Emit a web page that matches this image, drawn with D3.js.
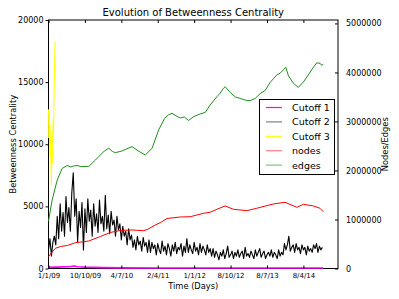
<!DOCTYPE html>
<html><head><meta charset="utf-8">
<script src="https://cdn.jsdelivr.net/npm/d3@7"></script>
<style>body{margin:0;background:#fff}svg{display:block}text{font-family:"DejaVu Sans",sans-serif}</style>
</head><body><svg id="c" width="399" height="299"></svg>
<script>
// ---- data ----
const xTickIdx = [0, 200, 400, 600, 800, 1000, 1200, 1400];
const xTickLabels = ["1/1/09", "10/10/09", "4/7/10", "2/4/11", "1/1/12", "8/10/12", "8/7/13", "8/4/14"];
const leftTicks = [0, 5000, 10000, 15000, 20000];
const rightTicks = [0, 1000000, 2000000, 3000000, 4000000, 5000000];
const seriesNames = ["Cutoff 1", "Cutoff 2", "Cutoff 3", "nodes", "edges"];
const seriesColors = ["#ff00ff", "#000000", "#ffff00", "#ff0000", "#1f8f1f"];

const cutoff1Day = [0, 40, 80, 120, 140, 160, 200, 300, 400, 600, 900, 1200, 1508];
const cutoff1 = [90, 110, 130, 160, 200, 140, 110, 70, 50, 40, 40, 40, 40];

const cutoff2Step = 8; // one sample every 8 days
const cutoff2 = [
 1500,2400,1000,2100, 2600,1900,4200,2400, 5200,3000,4500,2600,
 5800,3700,4900,3000,6100,
 7700,4200,5600,2150,4600,3300,5300,1500,4800,
 2900,5600,3800,4700,2600,5200,3400,4400,2900,5500,3600,4200,3000,
 5900,3200,4300,2800,4600,3500,3900,2600,4200,3100,3600,
 2300,3400,2600,3000,1900,3200,2300,
 2700,1700,2300,1500,2600,1900,2200,1400,2500,1800,2100,1300,2300,
 1300,2100,1600,1900,1100,2000,1500,1200,2200,1400,1800,1100,2000,1600,1000,1900,1400,2100,1200,1700,1500,2000,1000,1800,1300,
 2400,
 1300,1900,1500,1200,2100,1400,1700,1100,2000,1300,1800,1500,1100,1900,1300,1600,1000,1600,
 900,1400,1100,700,1300,1000,1500,800,1200,1800,900,1100,1400,800,1300,1000,1500,900,1200,1400,800,1700,1000,1200,
 900,1400,1100,800,1500,1000,1300,1600,900,1200,1400,800,1100,1300,1000,1500,900,1300,1100,800,1500,1000,1300,1100,
 2000,1500,1900,2600,1400,1700,1900,1300,2000,1500,1700,1200,1900,1500,1700,1100,1800,1400,1600,1300,1900,1600,2000,1300,1800,1500,1700
];

const cutoff3Day = [0, 2, 4, 6, 8, 10, 12, 14, 16, 18, 20, 22, 24, 26, 28, 30, 32, 34, 36];
const cutoff3 = [12800, 10500, 12500, 10000, 11500, 9000, 10500, 8000, 6700, 9000, 11000, 8500, 10500, 12000, 11000, 13500, 15000, 17000, 18300];

const nodesDay = [0, 38, 66, 103, 148, 194, 221, 285, 340, 395, 459, 523, 548, 586, 614, 651, 724, 779, 852, 888, 925, 970, 1016, 1089, 1144, 1199, 1235, 1299, 1364, 1400, 1455, 1491, 1509];
const nodes = [245000, 412000, 449000, 469000, 527000, 547000, 561000, 653000, 735000, 776000, 786000, 771000, 806000, 888000, 935000, 1020000, 1051000, 1057000, 1127000, 1147000, 1208000, 1276000, 1208000, 1180000, 1229000, 1282000, 1316000, 1351000, 1249000, 1310000, 1276000, 1229000, 1159000];

const edgesDay = [0, 20, 48, 75, 103, 121, 139, 157, 175, 221, 258, 276, 307, 331, 351, 367, 404, 428, 459, 493, 532, 569, 605, 638, 658, 678, 702, 724, 746, 769, 797, 833, 861, 888, 925, 943, 961, 970, 998, 1026, 1053, 1089, 1108, 1135, 1163, 1190, 1217, 1254, 1272, 1290, 1303, 1318, 1345, 1372, 1400, 1427, 1448, 1473, 1491, 1501, 1509];
const edges = [969000, 1398000, 1806000, 2041000, 2102000, 2071000, 2092000, 2102000, 2082000, 2082000, 2214000, 2282000, 2398000, 2453000, 2388000, 2363000, 2398000, 2439000, 2486000, 2398000, 2316000, 2453000, 2827000, 3065000, 3133000, 3167000, 3112000, 3071000, 3092000, 3020000, 3098000, 3153000, 3184000, 3337000, 3506000, 3576000, 3678000, 3710000, 3592000, 3500000, 3469000, 3429000, 3424000, 3469000, 3571000, 3633000, 3796000, 3949000, 3984000, 4051000, 4106000, 3929000, 3780000, 3694000, 3806000, 3949000, 4071000, 4194000, 4188000, 4143000, 4173000];

// ---- layout ----
const L = 48.5, R = 338, T = 20, B = 268.5;
const svg = d3.select("#c");
const x = d3.scaleLinear().domain([0, 1590]).range([L, R]);
const yL = d3.scaleLinear().domain([0, 20000]).range([B, T]);
const yR = d3.scaleLinear().domain([0, 5070000]).range([B, T]);

// frame
svg.append("rect").attr("x", L).attr("y", T).attr("width", R - L).attr("height", B - T)
  .attr("fill", "none").attr("stroke", "#000").attr("stroke-width", 1);

const plot = svg.append("g");
function drawLine(days, vals, y, color, w) {
  const pts = vals.map((v, i) => [days[i], v]);
  plot.append("path").datum(pts)
    .attr("fill", "none").attr("stroke", color).attr("stroke-width", w)
    .attr("stroke-linejoin", "round")
    .attr("d", d3.line().x(d => x(d[0])).y(d => y(d[1])));
}
drawLine(cutoff2.map((v, i) => i * cutoff2Step), cutoff2, yL, seriesColors[1], 1.1);
drawLine(cutoff1Day, cutoff1, yL, seriesColors[0], 1.6);
drawLine(cutoff3Day, cutoff3, yL, seriesColors[2], 1);
drawLine(nodesDay, nodes, yR, seriesColors[3], 1);
drawLine(edgesDay, edges, yR, seriesColors[4], 1);

// axes
const fmt = d3.format("d");
const gx = svg.append("g").attr("transform", `translate(0,${B})`)
  .call(d3.axisBottom(x).tickValues(xTickIdx).tickFormat((d, i) => xTickLabels[i]).tickSizeInner(-3).tickSizeOuter(0).tickPadding(5));
gx.selectAll("text").attr("font-size", 7);
svg.append("g").attr("transform", `translate(0,${T})`)
  .call(d3.axisTop(x).tickValues(xTickIdx).tickFormat("").tickSizeInner(-3).tickSizeOuter(0));
const gy = svg.append("g").attr("transform", `translate(${L},0)`)
  .call(d3.axisLeft(yL).tickValues(leftTicks).tickFormat(fmt).tickSizeInner(3).tickSizeOuter(0).tickPadding(2));
gy.selectAll("text").attr("font-size", 8).attr("fill", "#000");
const gr = svg.append("g").attr("transform", `translate(${R},0)`)
  .call(d3.axisRight(yR).tickValues(rightTicks).tickFormat(fmt).tickSizeInner(-3).tickSizeOuter(0).tickPadding(8));
gr.selectAll("text").attr("font-size", 8).attr("fill", "#000");
svg.selectAll(".domain").remove();
svg.selectAll(".tick line").attr("stroke", "#000");

// titles
svg.append("text").attr("x", (L + R) / 2).attr("y", 16).attr("text-anchor", "middle")
  .attr("font-size", 10).text("Evolution of Betweenness Centrality");
svg.append("text").attr("x", (L + R) / 2).attr("y", 288.5).attr("text-anchor", "middle")
  .attr("font-size", 8.3).text("Time (Days)");
svg.append("text").attr("transform", `translate(16,${(T + B) / 2}) rotate(-90)`).attr("text-anchor", "middle")
  .attr("font-size", 8.3).text("Betweenness Centrality");
svg.append("text").attr("transform", `translate(388,${(T + B) / 2}) rotate(-90)`).attr("text-anchor", "middle")
  .attr("font-size", 8.3).text("Nodes/Edges");

// legend
const lg = svg.append("g");
lg.append("rect").attr("x", 259.5).attr("y", 99.5).attr("width", 75).attr("height", 75)
  .attr("fill", "#fff").attr("stroke", "#000").attr("stroke-width", 1);
const legendColors = ["#ff00ff", "#808080", "#ffff00", "#ff8080", "#80c080"];
seriesNames.forEach((n, i) => {
  const yy = 107.5 + i * 14.4;
  lg.append("line").attr("x1", 266).attr("x2", 282).attr("y1", yy).attr("y2", yy)
    .attr("stroke", legendColors[i]).attr("stroke-width", 1.2);
  lg.append("text").attr("x", 292).attr("y", yy + 3.5).attr("font-size", 9.5).text(n);
});
</script></body></html>
